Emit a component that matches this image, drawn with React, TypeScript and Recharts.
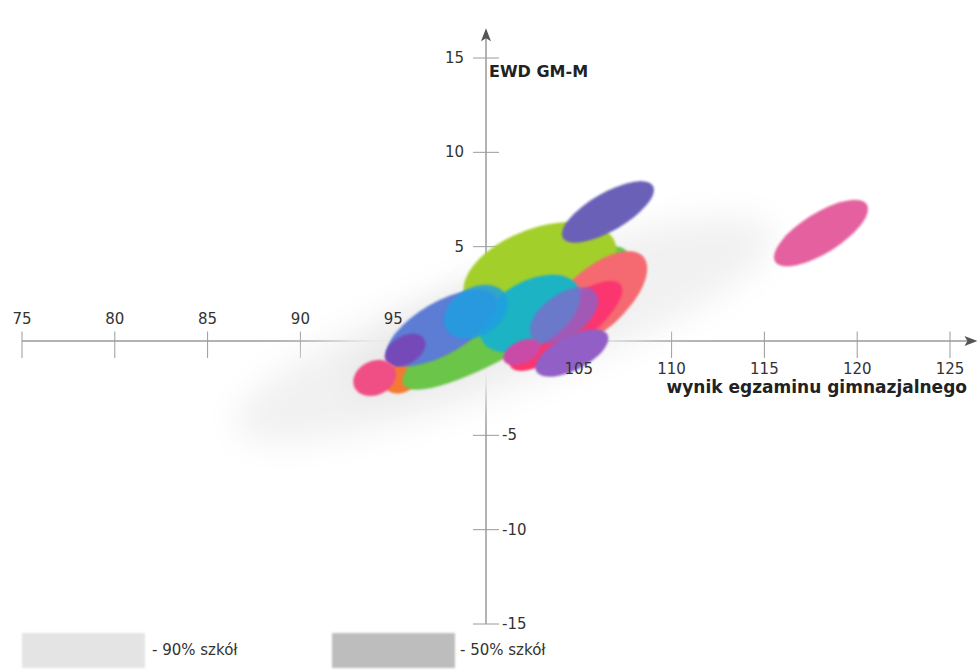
import React from 'react';
import { ScatterChart, Scatter, XAxis, YAxis, ReferenceLine, ReferenceDot } from 'recharts';

// --- wymiary wykresu ---
const WIDTH = 978;
const HEIGHT = 671;
const MARGIN = { top: 58, right: 28, bottom: 47, left: 22 };
const X_MIN = 75;
const X_MAX = 125;
const Y_MIN = -15;
const Y_MAX = 15;
const PX_PER_UNIT = (WIDTH - MARGIN.left - MARGIN.right) / (X_MAX - X_MIN);

const FONT = '"DejaVu Sans", sans-serif';
const AXIS_COLOR = '#9a9a9a';
const TEXT_COLOR = '#333';

// --- dane: tło (90% i 50% szkół) ---
const cloudNames = ['90% szkół', '50% szkół'];
const cloudX = [101.0, 99.4];
const cloudY = [0.6, 0.7];
const cloudRx = [15.4, 7.5];
const cloudRy = [3.2, 1.7];
const cloudAngle = [20, 25];
const cloudColors = ['#f1f1f1', '#e6e6e6'];

// --- dane: elipsy szkół (kolejność = kolejność rysowania) ---
const schoolNames = ['o', 'g', 'l', 'c', 'r', 't', 'v', 'm', 'b', 's', 'pl', 'pk', 'ps', 'pt', 'pr'];
const schoolX = [95.4, 101.56, 102.91, 105.87, 104.3, 102.37, 104.2, 101.94, 97.63, 99.45, 95.64, 94.0, 104.63, 106.57, 118.05];
const schoolY = [-1.96, 1.22, 3.76, 2.17, 0.8, 1.45, 1.35, -0.58, 0.69, 1.55, -0.48, -1.96, -0.64, 6.84, 5.72];
const schoolRx = [1.0, 7.0, 4.31, 3.5, 3.7, 2.96, 2.1, 1.08, 3.34, 1.85, 1.19, 1.2, 2.16, 2.8, 2.91];
const schoolRy = [0.8, 1.62, 2.26, 1.62, 1.2, 1.72, 1.15, 0.59, 1.4, 1.3, 0.75, 0.92, 0.92, 1.02, 1.08];
const schoolAngle = [25, 31, 20, 42, 37, 30, 35, 25, 30, 30, 30, 25, 27, 30, 32];
const schoolColors = [
  '#f47a32', '#6ac548', '#a3cf2c', '#f46a70', '#fb3470', '#1fb3c4', '#8466cc', '#c94ca8',
  '#5d7bd4', '#1e9ee2', '#7448b8', '#ef4f85', '#915ec6', '#6a60b8', '#e4619e',
];
const schoolOpacity = [1, 1, 1, 1, 1, 1, 0.75, 1, 1, 0.85, 1, 1, 1, 1, 1];

// --- osie ---
const xTicksAbove = [75, 80, 85, 90, 95];
const xTicksBelow = [105, 110, 115, 120, 125];
const yTicksLeft = [15, 10, 5];
const yTicksRight = [-5, -10, -15];

const clouds = cloudNames.map((name, i) => ({
  name, x: cloudX[i], y: cloudY[i], rx: cloudRx[i], ry: cloudRy[i], angle: cloudAngle[i], color: cloudColors[i], opacity: 1,
}));
const schools = schoolNames.map((name, i) => ({
  name, x: schoolX[i], y: schoolY[i], rx: schoolRx[i], ry: schoolRy[i], angle: schoolAngle[i],
  color: schoolColors[i], opacity: schoolOpacity[i],
}));

const makeEllipse = (blur: number, tag: string) => (props: any) => {
  const { cx, cy, payload, index } = props;
  const id = `f-${tag}-${index}`;
  return (
    <g>
      <defs>
        <filter id={id} x="-50%" y="-50%" width="200%" height="200%">
          <feGaussianBlur stdDeviation={blur} />
        </filter>
      </defs>
      <ellipse
        cx={cx}
        cy={cy}
        rx={payload.rx * PX_PER_UNIT}
        ry={payload.ry * PX_PER_UNIT}
        transform={`rotate(${-payload.angle} ${cx} ${cy})`}
        fill={payload.color}
        fillOpacity={payload.opacity}
        filter={`url(#${id})`}
      />
    </g>
  );
};

const tickText = (value: string, dx: number, dy: number, anchor: string) => (p: any) => (
  <text
    x={p.cx + dx}
    y={p.cy + dy}
    textAnchor={anchor}
    dominantBaseline="central"
    fontFamily={FONT}
    fontSize={15}
    fill={TEXT_COLOR}
  >
    {value}
  </text>
);

const titleText = (value: string, dx: number, dy: number, anchor: string, size: number) => (p: any) => (
  <text
    x={p.cx + dx}
    y={p.cy + dy}
    textAnchor={anchor}
    dominantBaseline="central"
    fontFamily={FONT}
    fontSize={size}
    fontWeight="bold"
    fill="#222"
  >
    {value}
  </text>
);

const arrowRight = (p: any) => (
  <polygon
    points={`${p.cx + 7},${p.cy} ${p.cx - 6},${p.cy - 5} ${p.cx - 3},${p.cy} ${p.cx - 6},${p.cy + 5}`}
    fill="#555"
  />
);
const arrowUp = (p: any) => (
  <polygon
    points={`${p.cx},${p.cy - 7} ${p.cx + 5},${p.cy + 6} ${p.cx},${p.cy + 3} ${p.cx - 5},${p.cy + 6}`}
    fill="#555"
  />
);

export default function App() {
  return (
    <div style={{ position: 'absolute', left: 0, top: 0, width: WIDTH, height: HEIGHT, background: '#fff' }}>
      <ScatterChart width={WIDTH} height={HEIGHT} margin={MARGIN}>
        <XAxis type="number" dataKey="x" domain={[X_MIN, X_MAX]} hide />
        <YAxis type="number" dataKey="y" domain={[Y_MIN, Y_MAX]} hide />

        {/* tło: obszary 90% / 50% szkół */}
        <Scatter data={clouds} shape={makeEllipse(16, 'c')} isAnimationActive={false} />

        {/* osie przecinające się w (100, 0) */}
        <ReferenceLine segment={[{ x: X_MIN, y: 0 }, { x: 126, y: 0 }]} stroke={AXIS_COLOR} strokeWidth={1.5} ifOverflow="visible" />
        <ReferenceLine segment={[{ x: 100, y: Y_MIN }, { x: 100, y: 16.1 }]} stroke={AXIS_COLOR} strokeWidth={1.5} ifOverflow="visible" />
        {[...xTicksAbove, ...xTicksBelow].map((v) => (
          <ReferenceLine key={`xt${v}`} segment={[{ x: v, y: 0.5 }, { x: v, y: -0.9 }]} stroke={AXIS_COLOR} ifOverflow="visible" />
        ))}
        {[...yTicksLeft, ...yTicksRight].map((v) => (
          <ReferenceLine key={`yt${v}`} segment={[{ x: 99.3, y: v }, { x: 100.7, y: v }]} stroke={AXIS_COLOR} ifOverflow="visible" />
        ))}

        {/* elipsy szkół */}
        <Scatter data={schools} shape={makeEllipse(1.3, 's')} isAnimationActive={false} />

        {xTicksAbove.map((v) => (
          <ReferenceDot key={`xa${v}`} x={v} y={0} r={1} shape={tickText(String(v), 0, -22, 'middle')} ifOverflow="visible" />
        ))}
        {xTicksBelow.map((v) => (
          <ReferenceDot key={`xb${v}`} x={v} y={0} r={1} shape={tickText(String(v), 0, 28, 'middle')} ifOverflow="visible" />
        ))}
        {yTicksLeft.map((v) => (
          <ReferenceDot key={`yl${v}`} x={100} y={v} r={1} shape={tickText(String(v), -22, 0, 'end')} ifOverflow="visible" />
        ))}
        {yTicksRight.map((v) => (
          <ReferenceDot key={`yr${v}`} x={100} y={v} r={1} shape={tickText(String(v), 16, 0, 'start')} ifOverflow="visible" />
        ))}

        <ReferenceDot x={126.1} y={0} r={1} shape={arrowRight} ifOverflow="visible" />
        <ReferenceDot x={100} y={16.2} r={1} shape={arrowUp} ifOverflow="visible" />

        <ReferenceDot x={100} y={Y_MAX} r={1} shape={titleText('EWD GM-M', 3, 13, 'start', 16)} ifOverflow="visible" />
        <ReferenceDot x={X_MAX} y={0} r={1} shape={titleText('wynik egzaminu gimnazjalnego', 17, 46, 'end', 17)} ifOverflow="visible" />
      </ScatterChart>

      {/* legenda */}
      <div style={{ position: 'absolute', left: 22, top: 633, width: 123, height: 35, background: '#e4e4e4', filter: 'blur(1px)' }} />
      <div style={{ position: 'absolute', left: 152, top: 640, fontFamily: FONT, fontSize: 15, color: TEXT_COLOR, lineHeight: '20px' }}>
        - 90% szkół
      </div>
      <div style={{ position: 'absolute', left: 332, top: 633, width: 123, height: 35, background: '#bdbdbd', filter: 'blur(1px)' }} />
      <div style={{ position: 'absolute', left: 460, top: 640, fontFamily: FONT, fontSize: 15, color: TEXT_COLOR, lineHeight: '20px' }}>
        - 50% szkół
      </div>
    </div>
  );
}
